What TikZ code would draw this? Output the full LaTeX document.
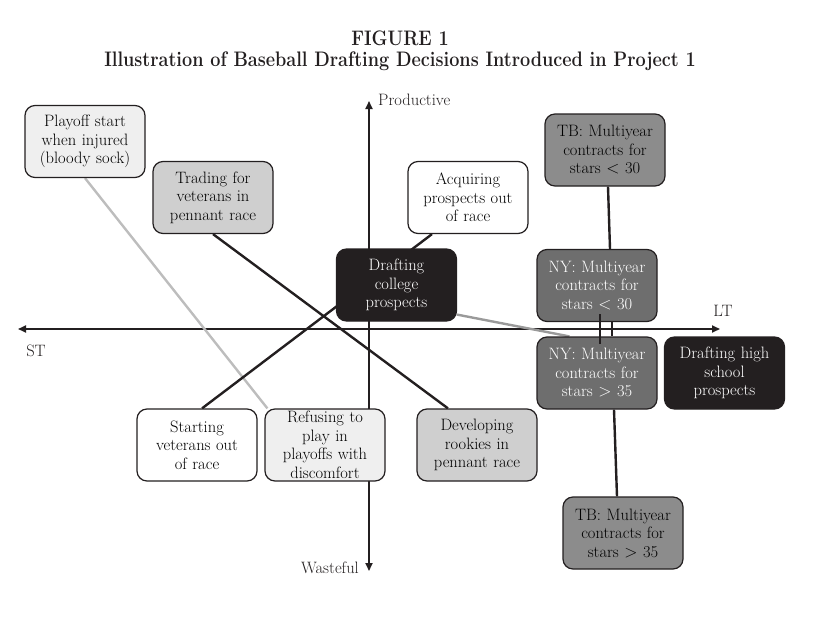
\documentclass[tikz,border=0pt]{standalone}
\usetikzlibrary{arrows.meta,backgrounds,calc}
\definecolor{paleGray}{HTML}{EFEFEF}
\definecolor{lightGray}{HTML}{CFCFCF}
\definecolor{midGray}{HTML}{8C8C8C}
\definecolor{darkGray}{HTML}{6E6E6E}
\definecolor{nearBlack}{HTML}{231F20}
\definecolor{sockGray}{HTML}{BDBDBD}
\definecolor{linkGray}{HTML}{9A9A9A}
\tikzset{
	decision/.style={draw=nearBlack,line width=1.2pt,rounded corners=10pt,minimum width=120pt,minimum height=72pt,text width=116pt,inner xsep=2pt,inner ysep=0pt,align=center,font=\fontsize{16.5}{18.5}\selectfont},
	axisline/.style={line width=1.8pt,draw=nearBlack,{Triangle[length=8pt,width=7pt]}-{Triangle[length=8pt,width=7pt]}},
	tie/.style={line width=2.4pt,draw=nearBlack},
	axistext/.style={font=\fontsize{16.5}{18.5}\selectfont,text=nearBlack,inner sep=0pt},
	heading/.style={font=\fontsize{21}{24}\selectfont\bfseries,text=nearBlack}
}
\begin{document}
\begin{tikzpicture}[x=1pt,y=-1pt]
	\useasboundingbox (0,0) rectangle (835,626);
	\node[heading] (fig) at (400,38) {\scalebox{0.86}[1]{FIGURE 1}};
	\node[heading] (title) at (400,61) {\scalebox{0.86}[1]{Illustration of Baseball Drafting Decisions Introduced in Project 1}};
	\node[decision,fill=paleGray] (playoff) at (85,141.5) {Playoff start\\when injured\\(bloody sock)};
	\node[decision,fill=lightGray] (trading) at (213,197.5) {Trading for\\veterans in\\pennant race};
	\node[decision,fill=white] (acquiring) at (468,197.5) {Acquiring\\prospects out\\of race};
	\node[decision,fill=nearBlack,text=white] (college) at (396.5,285) {Drafting\\college\\prospects};
	\node[decision,fill=midGray] (tba) at (605,150) {TB: Multiyear\\contracts for\\stars $<$ 30};
	\node[decision,fill=darkGray,text=white] (nya) at (597,285.5) {NY: Multiyear\\contracts for\\stars $<$ 30};
	\node[decision,fill=darkGray,text=white] (nyb) at (597,373) {NY: Multiyear\\contracts for\\stars $>$ 35};
	\node[decision,fill=nearBlack,text=white] (highschool) at (724.5,373) {Drafting high\\school\\prospects};
	\node[decision,fill=midGray] (tbb) at (623,533) {TB: Multiyear\\contracts for\\stars $>$ 35};
	\node[decision,fill=white] (starting) at (197,445) {Starting\\veterans out\\of race};
	\node[decision,fill=paleGray] (refusing) at (325,445) {Refusing to\\play in\\playoffs with\\discomfort};
	\node[decision,fill=lightGray] (developing) at (477,445) {Developing\\rookies in\\pennant race};
	\coordinate (st) at (18,329);
	\coordinate (lt) at (720,329);
	\coordinate (prod) at (369,101);
	\coordinate (waste) at (369,571);
	\node[axistext] (stlabel) at (36,351) {ST};
	\node[axistext] (ltlabel) at (723,311) {LT};
	\node[axistext,anchor=west] (prodlabel) at (378,100) {Productive};
	\node[axistext,anchor=east] (wastelabel) at (359,568) {Wasteful};
	\begin{scope}[on background layer]
		\draw[axisline] (st) -- (lt);
		\draw[axisline] (prod) -- (waste);
		\draw[tie,draw=sockGray] (playoff.south) -- ($(refusing.north west)+(3,0)$);
		\draw[tie] (trading.south) -- ($(developing.north)+(-29,0)$);
		\draw[tie] ($(acquiring.south)+(-36,0)$) -- ($(starting.north)+(5,0)$);
		\draw[tie,draw=linkGray] ($(college.south east)+(0,-7)$) -- ($(nyb.north west)+(33,0)$);
		\draw[tie] ($(tba.south)+(3,0)$) -- ($(nya.north)+(13,0)$);
		\draw[tie] ($(nya.south)+(15,0)$) -- ($(nyb.north)+(15,0)$);
		\draw[tie] ($(nyb.south)+(17,0)$) -- ($(tbb.north)+(-6,0)$);
	\end{scope}
	\draw[tie] ($(nya.south)+(3,-8)$) -- ($(nyb.north)+(3,8)$);
\end{tikzpicture}
\end{document}
